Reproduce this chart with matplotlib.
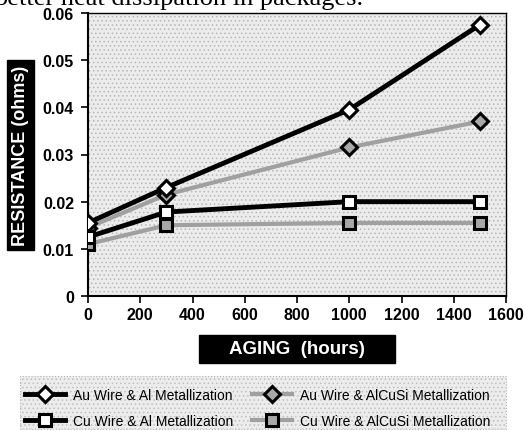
import matplotlib
matplotlib.use("Agg")
import matplotlib.pyplot as plt

# ── data ────────────────────────────────────────────────────────────────────
hours = [0, 300, 1000, 1500]
au_al = [0.0155, 0.0230, 0.0395, 0.0575]
au_alcusi = [0.0145, 0.0215, 0.0315, 0.0370]
cu_al = [0.0125, 0.0178, 0.0200, 0.0200]
cu_alcusi = [0.0110, 0.0150, 0.0155, 0.0155]

labels = ["Au Wire & Al Metallization", "Cu Wire & Al Metallization",
          "Au Wire & AlCuSi Metallization", "Cu Wire & AlCuSi Metallization"]
xticks = [0, 200, 400, 600, 800, 1000, 1200, 1400, 1600]
yticks = [0, 0.01, 0.02, 0.03, 0.04, 0.05, 0.06]
yticklabels = ["0", "0.01", "0.02", "0.03", "0.04", "0.05", "0.06"]

plt.rcParams["font.family"] = ["Liberation Sans", "DejaVu Sans"]
plt.rcParams["hatch.linewidth"] = 0.6

W, H = 524, 431
fig = plt.figure(figsize=(W / 100, H / 100), dpi=100)


def fx(px):
    return px / W


def fy(py):
    return 1 - py / H


ax = fig.add_axes([fx(88), fy(297), fx(506) - fx(88), fy(14) - fy(297)])

# stippled plot area
stipple = "#ececec"
ax.set_facecolor(stipple)
ax.add_patch(plt.Rectangle((0, 0), 1, 1, transform=ax.transAxes, facecolor="none",
                           edgecolor="#b8b8b8", hatch="....", lw=0, zorder=0))

gray = "#a0a0a0"
ax.plot(hours, au_alcusi, color=gray, lw=3, marker="D", ms=8.5, mfc="#a8a8a8",
        mec="black", mew=2.2, zorder=3, label=labels[2])
ax.plot(hours, cu_alcusi, color=gray, lw=3, marker="s", ms=8.5, mfc="#a8a8a8",
        mec="black", mew=2.2, zorder=3, label=labels[3])
ax.plot(hours, au_al, color="black", lw=3.5, marker="D", ms=8.5, mfc="white",
        mec="black", mew=2.2, zorder=4, label=labels[0])
ax.plot(hours, cu_al, color="black", lw=3.5, marker="s", ms=9, mfc="white",
        mec="black", mew=2.2, zorder=4, label=labels[1])

ax.set_xlim(0, 1600)
ax.set_ylim(0, 0.06)
ax.set_xticks(xticks)
ax.set_yticks(yticks)
ax.set_yticklabels(yticklabels)
ax.tick_params(direction="out", length=5, width=1.2, labelsize=11.5)
ax.tick_params(axis="x", pad=3)
ax.tick_params(axis="y", pad=5)
for lab in ax.get_xticklabels() + ax.get_yticklabels():
    lab.set_fontweight("bold")
ax.spines["left"].set_linewidth(1.5)
ax.spines["bottom"].set_linewidth(1.5)
ax.spines["top"].set_linewidth(1)
ax.spines["right"].set_linewidth(1)

ax.set_ylabel("RESISTANCE (ohms)", fontsize=13, fontweight="bold", color="white",
              bbox=dict(facecolor="black", edgecolor="black", pad=3.5), labelpad=10)

# x-axis title in a black box
fig.add_artist(plt.Rectangle((fx(199), fy(364)), fx(395) - fx(199), fy(336) - fy(364),
                             transform=fig.transFigure, facecolor="black", edgecolor="black"))
fig.text(fx(297), fy(350), "AGING  (hours)", fontsize=13.5, fontweight="bold",
         color="white", ha="center", va="center")

# partially cut-off body text from the scanned page
fig.text(fx(-6), fy(5), "better heat dissipation in packages.", fontsize=19,
         family="Liberation Serif", va="baseline", ha="left")

# stippled legend panel
fig.add_artist(plt.Rectangle((fx(20), fy(430)), fx(506) - fx(20), fy(377) - fy(430),
                             transform=fig.transFigure, facecolor=stipple,
                             edgecolor="#b0b0b0", lw=0.8, linestyle=":"))
fig.add_artist(plt.Rectangle((fx(20), fy(430)), fx(506) - fx(20), fy(377) - fy(430),
                             transform=fig.transFigure, facecolor="none",
                             edgecolor="#c0c0c0", hatch="....", lw=0))

handles, labs = ax.get_legend_handles_labels()
order = [2, 3, 0, 1]
leg = fig.legend([handles[i] for i in order], [labs[i] for i in order], ncol=2,
                 loc="upper left", bbox_to_anchor=(fx(14), fy(378)),
                 fontsize=10, frameon=False, handlelength=2.9,
                 borderpad=0.3, labelspacing=0.87, columnspacing=1.35, handletextpad=0.55)

fig.savefig("out.png", dpi=100)
